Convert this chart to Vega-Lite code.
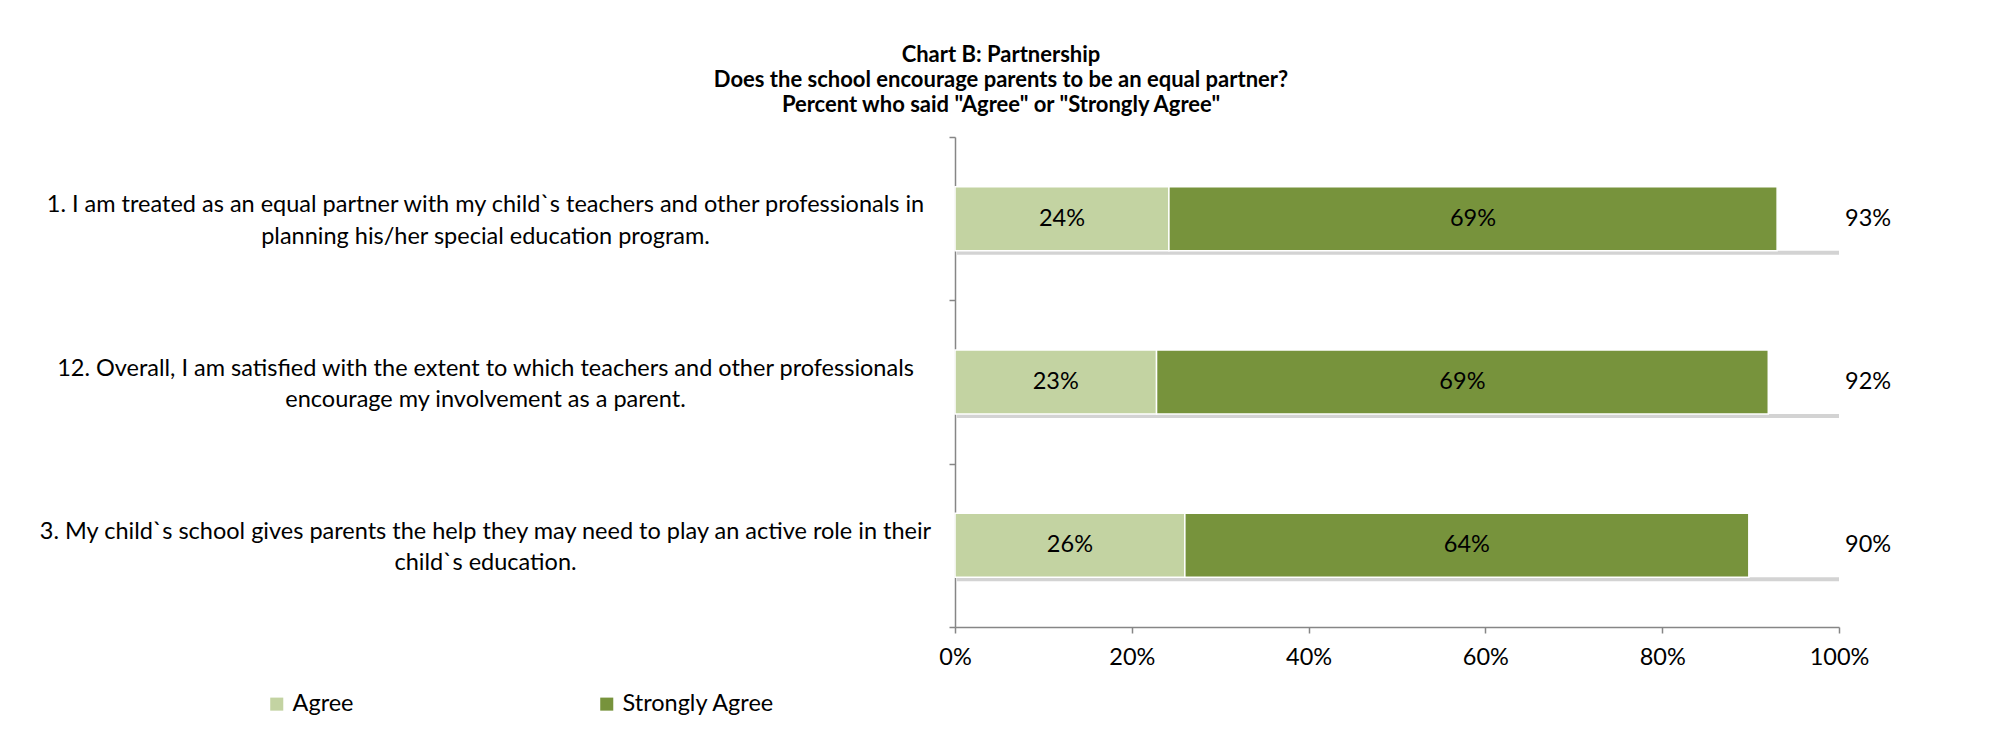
{
  "$schema": "https://vega.github.io/schema/vega-lite/v6.json",
  "width": 884,
  "height": 490,
  "autosize": {"type": "none"},
  "padding": {"left": 955, "top": 137, "right": 154, "bottom": 106},
  "background": "white",
  "config": {"view": {"stroke": null}, "font": "Lato", "text": {"font": "Lato"}},
  "title": {
    "text": ["Chart B: Partnership", "Does the school encourage parents to be an equal partner?", "Percent who said \"Agree\" or \"Strongly Agree\""],
    "font": "Lato",
    "fontSize": 22,
    "fontWeight": "bold",
    "lineHeight": 25,
    "color": "black",
    "anchor": "middle",
    "frame": "group",
    "dx": -396,
    "offset": 8
  },
  "datasets": {
    "segments": [
      {"question": "1. I am treated as an equal partner with my child`s teachers and other professionals in\nplanning his/her special education program.", "response": "Agree", "pct": 0.242},
      {"question": "1. I am treated as an equal partner with my child`s teachers and other professionals in\nplanning his/her special education program.", "response": "Strongly Agree", "pct": 0.688},
      {"question": "12. Overall, I am satisfied with the extent to which teachers and other professionals\nencourage my involvement as a parent.", "response": "Agree", "pct": 0.228},
      {"question": "12. Overall, I am satisfied with the extent to which teachers and other professionals\nencourage my involvement as a parent.", "response": "Strongly Agree", "pct": 0.692},
      {"question": "3. My child`s school gives parents the help they may need to play an active role in their\nchild`s education.", "response": "Agree", "pct": 0.26},
      {"question": "3. My child`s school gives parents the help they may need to play an active role in their\nchild`s education.", "response": "Strongly Agree", "pct": 0.638}
    ]
  },
  "data": {"name": "segments"},
  "encoding": {
    "y": {
      "field": "question",
      "type": "nominal",
      "sort": null,
      "title": null,
      "scale": {"paddingInner": 0, "paddingOuter": 0},
      "axis": {
        "labelExpr": "split(datum.label, '\\n')",
        "labelAlign": "center",
        "labelBaseline": "middle",
        "labelPadding": 464,
        "labelOffset": -14,
        "labelLimit": 1200,
        "labelFont": "Lato",
        "labelFontSize": 23.5,
        "labelLineHeight": 31.5,
        "labelColor": "black",
        "tickBand": "extent",
        "tickSize": 6,
        "tickColor": "#868686",
        "domainColor": "#868686",
        "domainWidth": 1.5,
        "tickWidth": 1.5
      }
    }
  },
  "layer": [
    {
      "transform": [{"aggregate": [{"op": "sum", "field": "pct", "as": "total"}], "groupby": ["question"]}],
      "mark": {"type": "bar", "color": "#d3d3d3", "yOffset": 4, "xOffset": 2, "height": {"band": 0.392}},
      "encoding": {
        "x": {"datum": 0, "type": "quantitative", "scale": {"domain": [0, 1], "nice": false}},
        "x2": {"datum": 1}
      }
    },
    {
      "transform": [{"aggregate": [{"op": "sum", "field": "pct", "as": "total"}], "groupby": ["question"]}],
      "mark": {"type": "bar", "color": "white", "height": {"band": 0.392}},
      "encoding": {
        "x": {"datum": 0, "type": "quantitative"},
        "x2": {"datum": 1}
      }
    },
    {
      "mark": {"type": "bar", "stroke": "white", "strokeWidth": 1.5, "height": {"band": 0.392}},
      "encoding": {
        "x": {
          "field": "pct",
          "type": "quantitative",
          "stack": "zero",
          "title": null,
          "axis": {
            "format": ".0%",
            "values": [0, 0.2, 0.4, 0.6, 0.8, 1],
            "grid": false,
            "labelFlush": false,
            "labelFont": "Lato",
            "labelFontSize": 23.5,
            "labelColor": "black",
            "labelPadding": 12,
            "tickSize": 6,
            "tickColor": "#868686",
            "domainColor": "#868686",
            "domainWidth": 1.5,
            "tickWidth": 1.5
          }
        },
        "color": {
          "field": "response",
          "type": "nominal",
          "scale": {"domain": ["Agree", "Strongly Agree"], "range": ["#c3d3a2", "#77933c"]},
          "legend": {
            "title": null,
            "orient": "none",
            "direction": "horizontal",
            "legendX": -690,
            "legendY": 555,
            "symbolType": "square",
            "symbolSize": 170,
            "symbolStrokeWidth": 0,
            "labelFont": "Lato",
            "labelFontSize": 23.5,
            "labelColor": "black",
            "labelOffset": 4,
            "columnPadding": 241
          }
        },
        "order": {"field": "response", "sort": "ascending"}
      }
    },
    {
      "transform": [
        {"stack": "pct", "groupby": ["question"], "sort": [{"field": "response", "order": "ascending"}], "as": ["x0", "x1"]},
        {"calculate": "(datum.x0 + datum.x1) / 2", "as": "mid"}
      ],
      "mark": {"type": "text", "font": "Lato", "fontSize": 23.5, "color": "black", "baseline": "middle", "align": "center"},
      "encoding": {
        "x": {"field": "mid", "type": "quantitative"},
        "text": {"field": "pct", "type": "quantitative", "format": ".0%"}
      }
    },
    {
      "transform": [{"aggregate": [{"op": "sum", "field": "pct", "as": "total"}], "groupby": ["question"]}],
      "mark": {"type": "text", "font": "Lato", "fontSize": 23.5, "color": "black", "baseline": "middle", "align": "left", "dx": 6},
      "encoding": {
        "x": {"datum": 1, "type": "quantitative"},
        "text": {"field": "total", "type": "quantitative", "format": ".0%"}
      }
    }
  ]
}
